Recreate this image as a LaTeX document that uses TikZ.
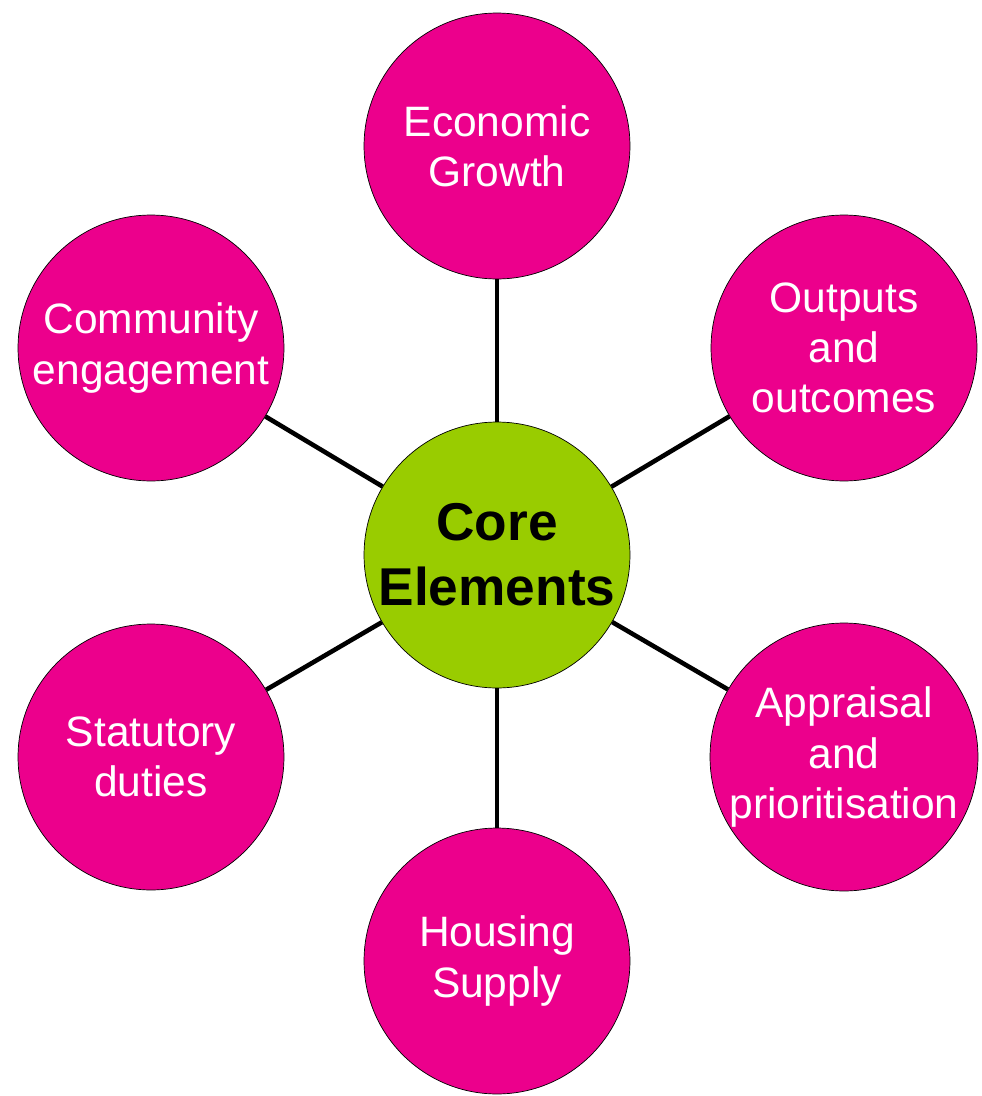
\documentclass[tikz,border=0pt]{standalone}
\usepackage{fontspec}
\setmainfont{Liberation Sans}
\usepackage{tikz}
\usetikzlibrary{positioning}
\definecolor{rosa}{HTML}{EC008C}
\definecolor{verde}{HTML}{99CC00}

\begin{document}
\begin{tikzpicture}[x=0.02cm, y=-0.02cm,
  tema/.style={circle, draw=black, thin, fill=rosa, text=white, minimum size=5.32cm,
    inner sep=0pt, align=center, font=\fontsize{24.2}{28.6}\selectfont},
  centro/.style={tema, fill=verde, text=black, font=\fontsize{30.3}{37}\selectfont\bfseries},
  ligacao/.style={black, line width=2.6pt}]

\useasboundingbox (0,0) rectangle (982,1096);

% ================= circulos =================
\node[centro] (core) at (497,555) {Core\\Elements};
\node[tema] (eco)  at (497,146) {Economic\\Growth};
\node[tema] (out)  at (844,348) {Outputs\\and\\outcomes};
\node[tema] (app)  at (844,757) {Appraisal\\and\\prioritisation};
\node[tema] (hou)  at (497,961) {Housing\\Supply};
\node[tema] (sta)  at (151,757) {Statutory\\duties};
\node[tema] (com)  at (151,348) {Community\\engagement};

% ================= ligacoes =================
\foreach \t in {eco,out,app,hou,sta,com}
  \draw[ligacao] (core) -- (\t);

\end{tikzpicture}
\end{document}
